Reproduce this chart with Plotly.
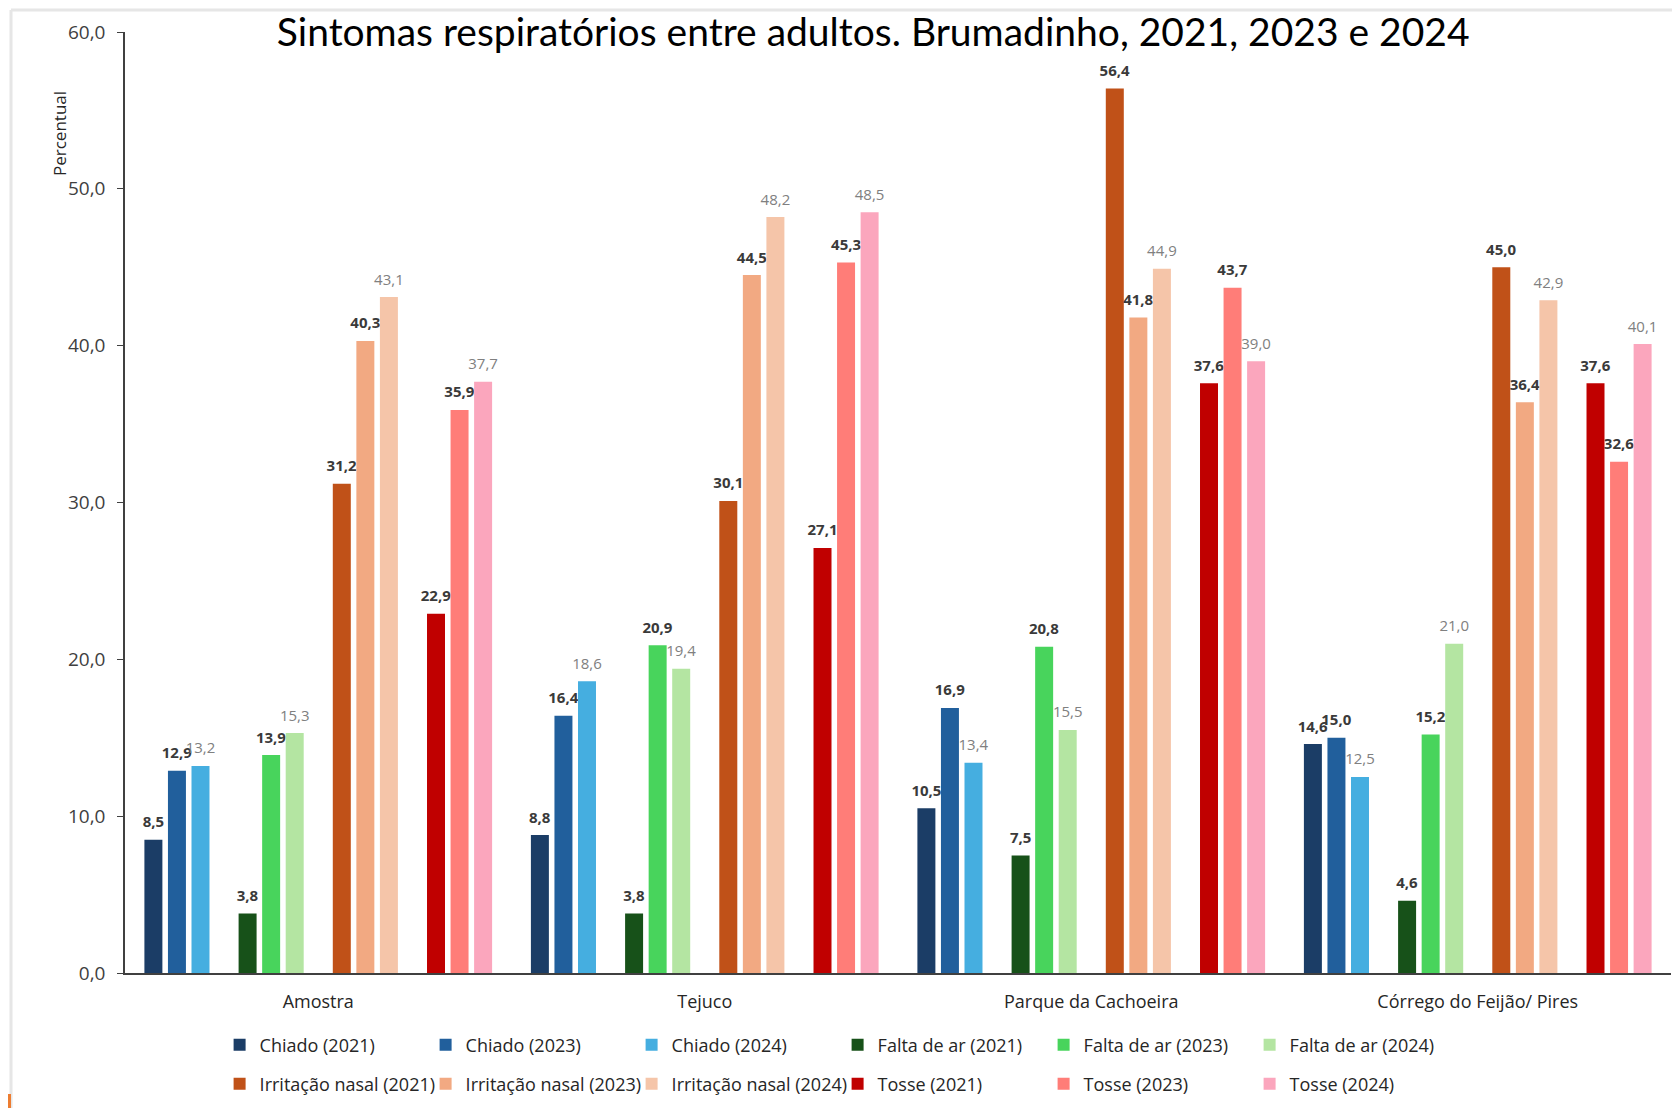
import plotly.graph_objects as go

categories = ["Amostra", "Tejuco", "Parque da Cachoeira", "Córrego do Feijão/ Pires"]

chiado_2021 = [8.5, 8.8, 10.5, 14.6]
chiado_2023 = [12.9, 16.4, 16.9, 15.0]
chiado_2024 = [13.2, 18.6, 13.4, 12.5]
falta_2021 = [3.8, 3.8, 7.5, 4.6]
falta_2023 = [13.9, 20.9, 20.8, 15.2]
falta_2024 = [15.3, 19.4, 15.5, 21.0]
irrit_2021 = [31.2, 30.1, 56.4, 45.0]
irrit_2023 = [40.3, 44.5, 41.8, 36.4]
irrit_2024 = [43.1, 48.2, 44.9, 42.9]
tosse_2021 = [22.9, 27.1, 37.6, 37.6]
tosse_2023 = [35.9, 45.3, 43.7, 32.6]
tosse_2024 = [37.7, 48.5, 39.0, 40.1]

series = [
    ("Chiado (2021)", chiado_2021, "#1b3d66", 2021),
    ("Chiado (2023)", chiado_2023, "#215f9c", 2023),
    ("Chiado (2024)", chiado_2024, "#45aee0", 2024),
    None,
    ("Falta de ar (2021)", falta_2021, "#175119", 2021),
    ("Falta de ar (2023)", falta_2023, "#48d45c", 2023),
    ("Falta de ar (2024)", falta_2024, "#b4e5a2", 2024),
    None,
    ("Irritação nasal (2021)", irrit_2021, "#c05118", 2021),
    ("Irritação nasal (2023)", irrit_2023, "#f2a982", 2023),
    ("Irritação nasal (2024)", irrit_2024, "#f5c5a9", 2024),
    None,
    ("Tosse (2021)", tosse_2021, "#c00000", 2021),
    ("Tosse (2023)", tosse_2023, "#ff7d78", 2023),
    ("Tosse (2024)", tosse_2024, "#fba6bd", 2024),
]

LABEL_LIFT = 0.35  # extra gap (in axis units) between bar top and its value label

FONT = "Open Sans"
TFONT = "Lato"
CLEAR = "rgba(0,0,0,0)"
fig = go.Figure()
count = 0
for i, s in enumerate(series):
    og = f"g{i}"
    if s is None:
        fig.add_trace(go.Bar(x=categories, y=[0, 0, 0, 0], offsetgroup=og, showlegend=False,
                             hoverinfo="skip", marker=dict(color=CLEAR, line=dict(width=0))))
        continue
    name, vals, color, year = s
    legend = "legend" if count < 6 else "legend2"
    count += 1
    fig.add_trace(go.Bar(
        x=categories, y=vals, name=name, legend=legend, offsetgroup=og,
        marker=dict(color=color, line=dict(width=0)),
    ))
    if year == 2024:
        tf = dict(family=FONT, size=15, color="#808080")
        tt = "%{customdata:.1f}"
    else:
        tf = dict(family=FONT, size=15, color="#3a3a3a")
        tt = "<b>%{customdata:.1f}</b>"
    fig.add_trace(go.Bar(
        x=categories, y=[LABEL_LIFT] * len(vals), base=vals, customdata=vals,
        offsetgroup=og, showlegend=False, hoverinfo="skip",
        marker=dict(color=CLEAR, line=dict(width=0)),
        texttemplate=tt, textposition="outside", textfont=tf,
        constraintext="none", cliponaxis=False,
    ))

W, H = 1680, 1108
L, R, T, B = 117, 17, 24, 143
pw = W - L - R
ph = H - T - B

def px_x(p):
    return (p - L) / pw

def px_y(p):
    return (H - B - p) / ph

legend_common = dict(
    orientation="h", xanchor="left", yanchor="top",
    xref="container", yref="container",
    font=dict(family=FONT, size=18, color="#262626"),
    entrywidth=161, entrywidthmode="pixels",
    bgcolor=CLEAR, tracegroupgap=0,
)

fig.update_layout(
    width=W, height=H,
    margin=dict(l=L, r=R, t=T, b=B, autoexpand=False),
    paper_bgcolor="white", plot_bgcolor="white",
    separators=",.",
    barmode="group", bargap=0.086, bargroupgap=0.236,
    title=dict(text="Sintomas respiratórios entre adultos. Brumadinho, 2021, 2023 e 2024",
               x=0.515, xanchor="center", y=1 - 24 / H, yanchor="middle",
               font=dict(family=TFONT, size=39, color="#000000")),
    xaxis=dict(showline=True, linecolor="#404040", linewidth=1.5, ticks="",
               ticklabelstandoff=12,
               tickfont=dict(family=FONT, size=18, color="#262626"), showgrid=False),
    yaxis=dict(range=[0, 60], dtick=10, tickformat=".1f", showline=True,
               linecolor="#404040", linewidth=1.5, ticks="outside", ticklen=6,
               ticklabelstandoff=8,
               tickcolor="#404040", showgrid=False, zeroline=False,
               tickfont=dict(family=FONT, size=19, color="#404040")),
    legend=dict(x=211.6 / W, y=1 - 1018.5 / H, **legend_common),
    legend2=dict(x=211.6 / W, y=1 - 1057.5 / H, **legend_common),
    showlegend=True,
)

fig.add_annotation(text="Percentual", textangle=-90, xref="paper", yref="paper",
                   x=px_x(51), y=px_y(126), xanchor="center", yanchor="middle",
                   showarrow=False,
                   font=dict(family=FONT, size=17, color="#262626"))

# slide frame
fig.add_shape(type="line", xref="paper", yref="paper", x0=px_x(3), x1=px_x(3),
              y0=px_y(2), y1=px_y(1108), line=dict(color="#e6e6e6", width=3))
fig.add_shape(type="line", xref="paper", yref="paper", x0=px_x(3), x1=px_x(1680),
              y0=px_y(2), y1=px_y(2), line=dict(color="#e6e6e6", width=3))
fig.add_shape(type="rect", xref="paper", yref="paper", x0=px_x(0), x1=px_x(3),
              y0=px_y(1086), y1=px_y(1100), line=dict(width=0), fillcolor="#ed7d31")

fig.write_html("out.html")
